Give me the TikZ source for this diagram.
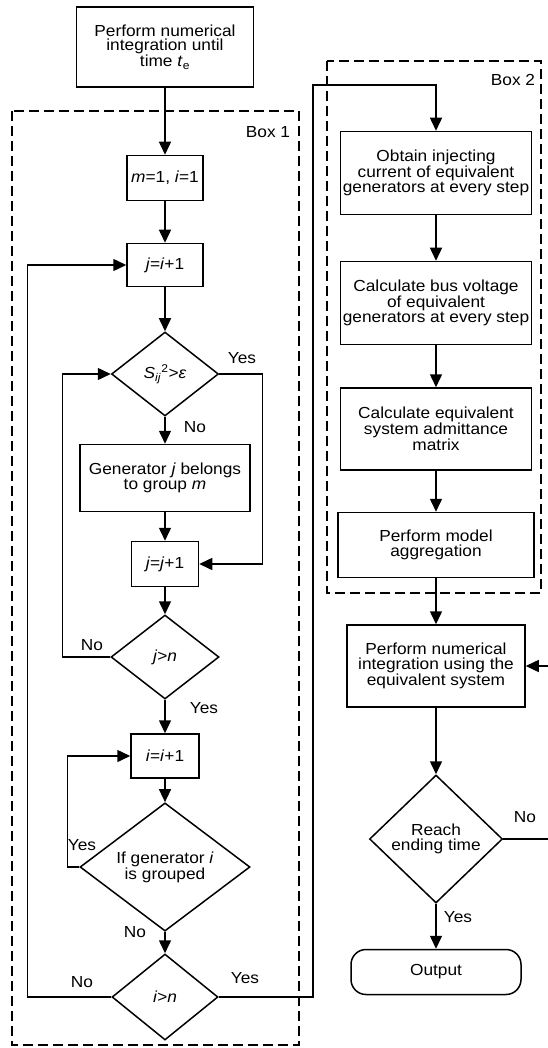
\documentclass[tikz,border=0pt]{standalone}
\usepackage{fontspec}
\setmainfont{Liberation Sans}[FakeStretch=1.08]
\usepackage{tikz}
\usetikzlibrary{positioning}
\usetikzlibrary{shapes.geometric}
\usetikzlibrary{arrows.meta}

\tikzset{
    txt/.style={font=\fontsize{16}{14.5}\selectfont},
    box/.style={txt, draw, line width=1.5pt, rectangle, align=center, inner sep=0pt},
    dec/.style={txt, draw, line width=1.5pt, diamond, align=center, inner sep=0pt},
    lbl/.style={txt, inner sep=0pt},
    arr/.style={line width=1.5pt, -{Triangle[length=13pt,width=12pt]}},
    dashbox/.style={line width=1.3pt, dash pattern=on 10pt off 5pt}
}

\begin{document}
\begin{tikzpicture}[x=1pt, y=-1pt]
    \useasboundingbox (0,0) rectangle (547,1048);
    \draw[dashbox] (12,111) rectangle (299,1045);
    \draw[dashbox] (327,61) rectangle (541,593);
    \node[lbl] (box1) at (268,132) {Box 1};
    \node[lbl] (box2) at (513,80) {Box 2};

    \node[box, minimum width=177pt, minimum height=80pt] (start) at (165,47)
        {Perform numerical\\integration until\\time \textit{t}\textsubscript{e}};
    \node[box, minimum width=76pt, minimum height=45pt] (init) at (165,178) {\textit{m}=1, \textit{i}=1};
    \node[box, minimum width=76pt, minimum height=43pt] (jinc) at (165,265) {\textit{j}=\textit{i}+1};
    \node[dec, minimum width=107pt, minimum height=84pt] (sij) at (165,374)
        {\textit{S}\textsubscript{\textit{ij}}\textsuperscript{2}>\textit{ε}};
    \node[box, minimum width=170pt, minimum height=67pt] (gen) at (165,478)
        {Generator \textit{j} belongs\\to group \textit{m}};
    \node[box, minimum width=67pt, minimum height=45pt] (jj) at (165,564) {\textit{j}=\textit{j}+1};
    \node[dec, minimum width=108pt, minimum height=84pt] (jn) at (165,657) {\textit{j}>\textit{n}};
    \node[box, minimum width=68pt, minimum height=44pt] (ii) at (165,756) {\textit{i}=\textit{i}+1};
    \node[dec, minimum width=170pt, minimum height=113pt] (grp) at (165,867)
        {If generator \textit{i}\\is grouped};
    \node[dec, minimum width=106pt, minimum height=86pt] (ign) at (165,997) {\textit{i}>\textit{n}};

    \node[box, minimum width=191pt, minimum height=83pt] (obtain) at (436,173)
        {Obtain injecting\\current of equivalent\\generators at every step};
    \node[box, minimum width=191pt, minimum height=83pt] (bus) at (436,303)
        {Calculate bus voltage\\of equivalent\\generators at every step};
    \node[box, minimum width=191pt, minimum height=82pt] (adm) at (436,429)
        {Calculate equivalent\\system admittance\\matrix};
    \node[box, minimum width=196pt, minimum height=65pt] (aggr) at (436,545)
        {Perform model\\aggregation};
    \node[box, minimum width=178pt, minimum height=82pt] (numint) at (436,666)
        {Perform numerical\\integration using the\\equivalent system};
    \node[dec, minimum width=133pt, minimum height=128pt] (reach) at (436,839)
        {Reach\\ending time};
    \node[box, rounded corners=15pt, minimum width=170pt, minimum height=45pt] (out) at (436,972) {Output};

    \draw[arr] (start) -- (init);
    \draw[arr] (init) -- (jinc);
    \draw[arr] (jinc) -- (sij);
    \draw[arr] (sij) -- (gen);
    \draw[arr] (gen) -- (jj);
    \draw[arr] (sij.east) -- ++(43,0) |- (jj.east);
    \draw[arr] (jj) -- (jn);
    \draw[arr] (jn.west) -- ++(-48,0) |- (sij.west);
    \draw[arr] (jn) -- (ii);
    \draw[arr] (ii) -- (grp);
    \draw[arr] (grp.west) -- ++(-12,0) |- (ii.west);
    \draw[arr] (grp) -- (ign);
    \draw[arr] (ign.west) -- ++(-84,0) |- (jinc.west);
    \coordinate (turn) at (313,85);
    \draw[arr] (ign.east) -| (turn) -| (obtain.north);

    \draw[arr] (obtain) -- (bus);
    \draw[arr] (bus) -- (adm);
    \draw[arr] (adm) -- (aggr);
    \draw[arr] (aggr) -- (numint);
    \draw[arr] (numint) -- (reach);
    \draw[arr] (reach) -- (out);
    \coordinate (back) at (549,750);
    \draw[arr] (reach.east) -| (back) |- (numint.east);

    \node[lbl] (sijyes) at (242,358) {Yes};
    \node[lbl] (sijno) at (195,427) {No};
    \node[lbl] (jnno) at (92,645) {No};
    \node[lbl] (jnyes) at (204,708) {Yes};
    \node[lbl] (grpyes) at (82,845) {Yes};
    \node[lbl] (grpno) at (135,932) {No};
    \node[lbl] (ignno) at (82,982) {No};
    \node[lbl] (ignyes) at (245,978) {Yes};
    \node[lbl] (reachno) at (525,817) {No};
    \node[lbl] (reachyes) at (458,917) {Yes};
\end{tikzpicture}
\end{document}
